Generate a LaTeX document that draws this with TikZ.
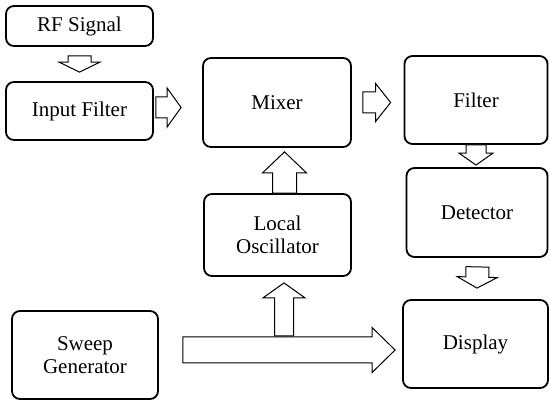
\documentclass[tikz,border=0pt]{standalone}
\usepackage{fontspec}
\setmainfont{Liberation Serif}
\newfontfamily\blkfont{Liberation Serif}
\usetikzlibrary{calc}
\tikzset{
  blk/.style={draw, line width=1.8pt, rounded corners=8pt, align=center, inner sep=0pt,
    font=\blkfont\fontsize{21}{22.5}\selectfont},
  barrowline/.style={draw, line width=1pt, fill=white, line join=miter},
}
% block arrow: start, tip, shaft half width, head half width, head length
\newcommand{\blockarrow}[5]{%
  \coordinate (ba-h) at ($(#2)!#5!(#1)$);
  \draw[barrowline] ($(#1)!#3!90:(#2)$) -- ($(ba-h)!#3!-90:(#1)$) -- ($(ba-h)!#4!-90:(#1)$)
    -- (#2) -- ($(ba-h)!#4!90:(#1)$) -- ($(ba-h)!#3!90:(#1)$) -- ($(#1)!#3!-90:(#2)$) -- cycle;
}
\begin{document}
\begin{tikzpicture}[x=1pt,y=-1pt]
\useasboundingbox (0,0) rectangle (550,401);
\node[blk, minimum width=147pt, minimum height=40pt] (rf) at (79.5,26) {RF Signal};
\node[blk, minimum width=147pt, minimum height=58pt] (inp) at (79.5,111) {Input Filter};
\node[blk, minimum width=148pt, minimum height=89pt] (mix) at (277,102.5) {Mixer};
\node[blk, minimum width=143pt, minimum height=88pt] (filt) at (476,100) {Filter};
\node[blk, minimum width=141pt, minimum height=89pt] (det) at (477,212.5) {Detector};
\node[blk, minimum width=147pt, minimum height=82pt] (lo) at (277.5,235) {Local\\Oscillator};
\node[blk, minimum width=146pt, minimum height=88pt] (sw) at (85,355) {Sweep\\Generator};
\node[blk, minimum width=145pt, minimum height=88pt] (disp) at (475.5,344) {Display};

% RF -> Input Filter
\coordinate (a1s) at ($(rf.south)+(0,9)$);
\coordinate (a1e) at ($(inp.north)+(0,-9)$);
\blockarrow{a1s}{a1e}{11.5pt}{20.5pt}{10pt}
% Input Filter -> Mixer
\coordinate (a2s) at ($(inp.east)+(2,-3.5)$);
\coordinate (a2e) at ($(mix.west)+(-21,5)$);
\blockarrow{a2s}{a2e}{10.5pt}{19.5pt}{14pt}
% Mixer -> Filter
\coordinate (a3s) at ($(mix.east)+(11,0)$);
\coordinate (a3e) at ($(filt.west)+(-13,2.5)$);
\blockarrow{a3s}{a3e}{10.5pt}{19pt}{15pt}
% Local Oscillator -> Mixer
\coordinate (a4s) at ($(lo.north)+(7,0)$);
\coordinate (a4e) at ($(mix.south)+(7.5,4)$);
\blockarrow{a4s}{a4e}{12pt}{22pt}{21pt}
% Sweep Generator -> Display
\coordinate (a6s) at ($(sw.east)+(24,-5)$);
\coordinate (a6e) at ($(disp.west)+(-7,6)$);
\blockarrow{a6s}{a6e}{13pt}{22.5pt}{23pt}
% Sweep -> Local Oscillator
\coordinate (a5s) at ($(lo.south)+(6.5,59)$);
\coordinate (a5e) at ($(lo.south)+(6.5,6)$);
\blockarrow{a5s}{a5e}{9.5pt}{21pt}{15pt}
% Filter -> Detector
\coordinate (a7s) at (filt.south);
\coordinate (a7e) at ($(det.north)+(-1,-2)$);
\blockarrow{a7s}{a7e}{10pt}{17pt}{12pt}
% Detector -> Display
\coordinate (a8s) at ($(det.south)+(0.5,9)$);
\coordinate (a8e) at ($(disp.north)+(1.5,-11)$);
\blockarrow{a8s}{a8e}{11.5pt}{20pt}{11pt}
\end{tikzpicture}
\end{document}
